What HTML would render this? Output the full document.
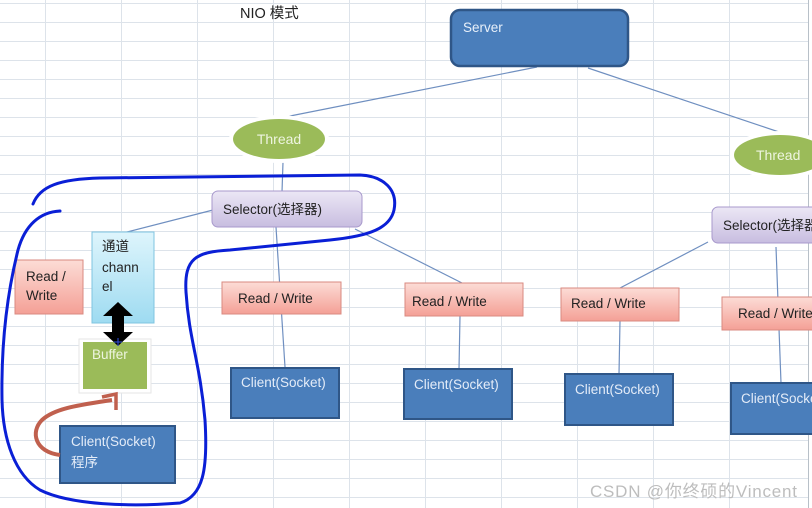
<!DOCTYPE html>
<html><head><meta charset="utf-8"><style>
html,body{margin:0;padding:0;background:#fff;width:812px;height:508px;overflow:hidden}
svg{display:block}
text{font-family:"Liberation Sans","Noto Sans CJK SC",sans-serif}
</style></head><body>
<svg width="812" height="508" viewBox="0 0 812 508" xmlns="http://www.w3.org/2000/svg">
<defs>
<linearGradient id="sel" x1="0" y1="0" x2="0" y2="1"><stop offset="0" stop-color="#ece7f5"/><stop offset="1" stop-color="#c8bde0"/></linearGradient>
<linearGradient id="rw" x1="0" y1="0" x2="0" y2="1"><stop offset="0" stop-color="#fcdcd6"/><stop offset="1" stop-color="#f4a096"/></linearGradient>
<linearGradient id="ch" x1="0" y1="0" x2="0" y2="1"><stop offset="0" stop-color="#def5fc"/><stop offset="1" stop-color="#9edbf1"/></linearGradient>
</defs>
<rect width="812" height="508" fill="#fff"/>
<g stroke="#dde3ea" stroke-width="1">
<path d="M0,3.5H808M0,22.5H808M0,41.5H808M0,60.5H808M0,79.5H808M0,98.5H808M0,117.5H808M0,136.5H808M0,155.5H808M0,174.5H808M0,193.5H808M0,212.5H808M0,231.5H808M0,250.5H808M0,269.5H808M0,288.5H808M0,307.5H808M0,326.5H808M0,345.5H808M0,364.5H808M0,383.5H808M0,402.5H808M0,421.5H808M0,440.5H808M0,459.5H808M0,478.5H808M0,497.5H808"/>
<path d="M45.5,0V508M121.5,0V508M197.5,0V508M273.5,0V508M349.5,0V508M425.5,0V508M501.5,0V508M577.5,0V508M653.5,0V508M729.5,0V508"/>
</g>
<line x1="808.5" y1="0" x2="808.5" y2="508" stroke="#b8c0c8"/>
<text x="240" y="18" font-size="14.5" fill="#222">NIO 模式</text>

<g stroke="#6f8fc0" stroke-width="1.2" fill="none">
<line x1="537" y1="67" x2="285" y2="117"/>
<line x1="588" y1="68" x2="785" y2="134"/>
<line x1="283" y1="162" x2="282" y2="192"/>
<line x1="213" y1="210" x2="123" y2="233"/>
<line x1="276" y1="227" x2="285" y2="367"/>
<line x1="355" y1="229" x2="462" y2="283"/>
<line x1="708" y1="242" x2="620" y2="288"/>
<line x1="776" y1="247" x2="781" y2="383"/>
<line x1="460" y1="316" x2="459" y2="369"/>
<line x1="620" y1="321" x2="619" y2="374"/>
</g>

<rect x="451" y="10" width="177" height="56" rx="9" fill="#4a7ebb" stroke="#2f5687" stroke-width="2.5"/>
<text x="463" y="32" font-size="13.5" fill="#e8f0fa">Server</text>

<ellipse cx="279" cy="139" rx="50" ry="24" fill="#fff"/>
<ellipse cx="279" cy="139" rx="46" ry="20" fill="#9bbb59"/>
<text x="279" y="144" font-size="14" fill="#eef5e0" text-anchor="middle">Thread</text>
<ellipse cx="780" cy="155" rx="50" ry="24" fill="#fff"/>
<ellipse cx="780" cy="155" rx="46" ry="20" fill="#9bbb59"/>
<text x="756" y="160" font-size="14" fill="#eef5e0">Thread</text>

<rect x="212" y="191" width="150" height="36" rx="6" fill="url(#sel)" stroke="#a899cc"/>
<text x="223" y="214" font-size="13.5" fill="#222">Selector(选择器)</text>
<rect x="712" y="207" width="110" height="36" rx="6" fill="url(#sel)" stroke="#a899cc"/>
<text x="723" y="230" font-size="13.5" fill="#222">Selector(选择器)</text>

<g fill="url(#rw)" stroke="#d98a80">
<rect x="15" y="260" width="68" height="54"/>
<rect x="222" y="282" width="119" height="32"/>
<rect x="405" y="283" width="118" height="33"/>
<rect x="561" y="288" width="118" height="33"/>
<rect x="722" y="297" width="100" height="33"/>
</g>
<g font-size="13.5" fill="#222">
<text x="26" y="281">Read /</text><text x="26" y="300">Write</text>
<text x="238" y="303">Read / Write</text>
<text x="412" y="306">Read / Write</text>
<text x="571" y="308">Read / Write</text>
<text x="738" y="318">Read / Write</text>
</g>

<g fill="#4a7ebb" stroke="#2f5687" stroke-width="2">
<rect x="231" y="368" width="108" height="50"/>
<rect x="404" y="369" width="108" height="50"/>
<rect x="565" y="374" width="108" height="51"/>
<rect x="731" y="383" width="90" height="51"/>
<rect x="60" y="426" width="115" height="57"/>
</g>
<g font-size="13.5" fill="#e4ecf8">
<text x="241" y="387">Client(Socket)</text>
<text x="414" y="389">Client(Socket)</text>
<text x="575" y="394">Client(Socket)</text>
<text x="741" y="403">Client(Socket)</text>
<text x="71" y="446">Client(Socket)</text>
<text x="71" y="467">程序</text>
</g>

<rect x="92" y="232" width="62" height="91" fill="url(#ch)" stroke="#7fc4e0"/>
<g font-size="13.5" fill="#222"><text x="102" y="251">通道</text><text x="102" y="272">chann</text><text x="102" y="291">el</text></g>

<rect x="79" y="339" width="72" height="54" fill="#fff" stroke="#e6e6e6"/>
<rect x="83" y="342" width="64" height="47" fill="#9bbb59"/>
<text x="92" y="359" font-size="13.5" fill="#eef5e0">Buffer</text>

<path d="M118,302 L133,316 L124,316 L124,332 L133,332 L118,346 L103,332 L112,332 L112,316 L103,316 Z" fill="#000"/>
<line x1="118" y1="338" x2="118" y2="346" stroke="#3050e0" stroke-width="1"/>
<line x1="114" y1="342" x2="122" y2="342" stroke="#3050e0" stroke-width="1"/>

<path d="M60,455 C35,452 30,432 42,420 C55,408 80,405 112,400" fill="none" stroke="#c0604e" stroke-width="4"/>
<path d="M102,397 L116,394 L116,410" fill="none" stroke="#c0604e" stroke-width="3.5"/>

<path d="M33,204 C40,186 60,179 100,178 L360,175 C384,176 398,190 394,210 C390,228 370,236 330,240 L230,250 C196,252 184,258 186,292 C189,340 200,362 205,420 C208,470 203,496 180,503 C130,507 70,505 40,490 C15,475 3,440 2,400 C1,340 8,290 18,250 C25,225 40,212 60,211" fill="none" stroke="#0a1fd6" stroke-width="3" stroke-linecap="round"/>

<text x="590" y="497" font-size="17" fill="#bdbdbd" textLength="207">CSDN @你终硕的Vincent</text>
</svg>
</body></html>
